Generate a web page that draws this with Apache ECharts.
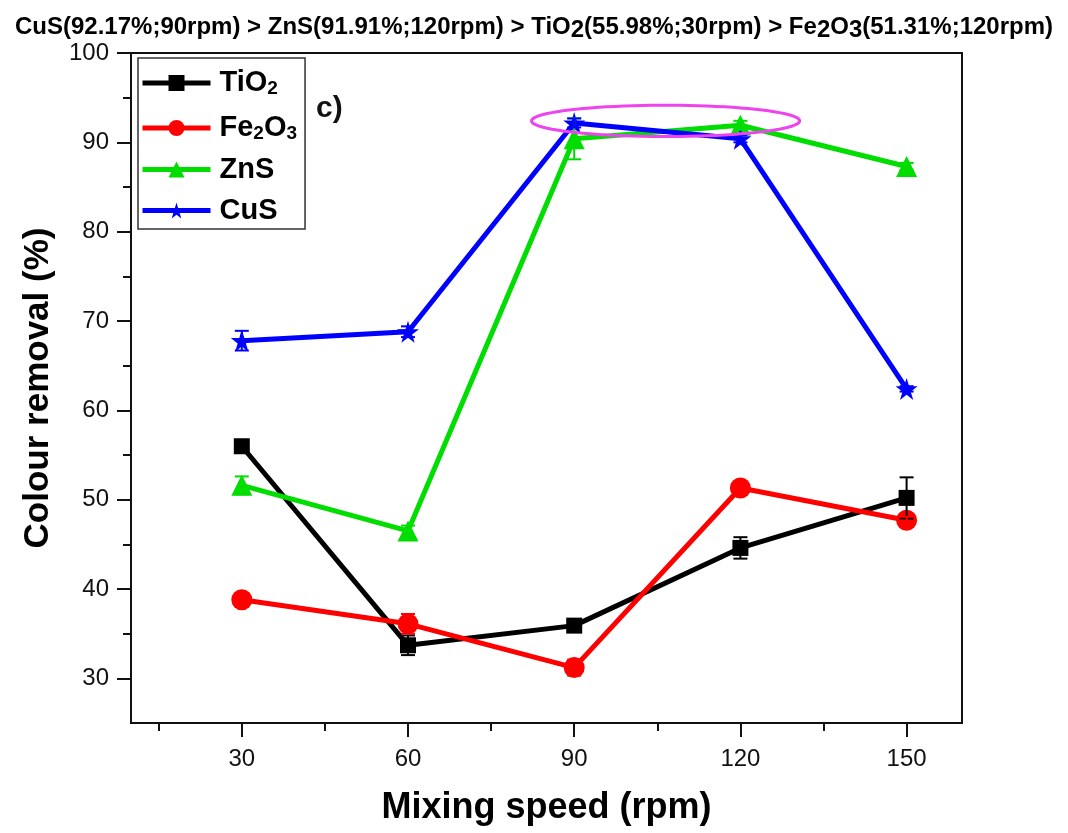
<!DOCTYPE html>
<html>
<head>
<meta charset="utf-8">
<title>Colour removal vs mixing speed</title>
<script src="https://cdn.jsdelivr.net/npm/echarts@6/dist/echarts.min.js"></script>
<style>
  html, body { margin: 0; padding: 0; background: #fff; }
  #main { width: 1068px; height: 833px; }
</style>
</head>
<body>
<div id="main"></div>
<script>
// data
var speeds = [30, 60, 90, 120, 150];
var tio2 = [55.98, 33.7, 35.9, 44.6, 50.2];
var tio2Err = [0.4, 1.1, 0.4, 1.2, 2.3];
var fe2o3 = [38.8, 36.1, 31.2, 51.31, 47.7];
var fe2o3Err = [0.3, 1.1, 0.9, 0.4, 0.4];
var zns = [51.6, 46.5, 90.4, 91.91, 87.3];
var znsErr = [1.0, 0.6, 2.3, 0.5, 0.4];
var cus = [67.8, 68.8, 92.17, 90.4, 62.4];
var cusErr = [1.1, 0.6, 0.5, 0.4, 0.3];

var xMajor = [30, 60, 90, 120, 150];
var xMinor = [15, 45, 75, 105, 135];
var yMajor = [30, 40, 50, 60, 70, 80, 90, 100];
var yMinor = [35, 45, 55, 65, 75, 85, 95];

// highlight ellipse around the top values (centre and half-axes in data units)
var highlight = [[106.5, 92.4, 24.2, 1.75]];

var starPath = 'path://M50,0 L61,35 L98,35 L68,57 L79,91 L50,70 L21,91 L32,57 L2,35 L39,35 Z';

var myChart = echarts.init(document.getElementById('main'));

function pairs(ys) {
  return speeds.map(function (x, i) { return [x, ys[i]]; });
}
function errData(ys, es) {
  return speeds.map(function (x, i) { return [x, ys[i] - es[i], ys[i] + es[i]]; });
}
function errRender(color) {
  return function (params, api) {
    var x = api.value(0);
    var top = api.coord([x, api.value(2)]);
    var bot = api.coord([x, api.value(1)]);
    var w = 7;
    var st = { stroke: color, lineWidth: 2 };
    return {
      type: 'group',
      children: [
        { type: 'line', shape: { x1: top[0], y1: top[1], x2: bot[0], y2: bot[1] }, style: st },
        { type: 'line', shape: { x1: top[0] - w, y1: top[1], x2: top[0] + w, y2: top[1] }, style: st },
        { type: 'line', shape: { x1: bot[0] - w, y1: bot[1], x2: bot[0] + w, y2: bot[1] }, style: st }
      ]
    };
  };
}

var colors = { TiO2: '#000000', Fe2O3: '#ff0000', ZnS: '#00dd00', CuS: '#0000ff' };

function lineSeries(name, ys, symbol, size) {
  return {
    name: name,
    type: 'line',
    data: pairs(ys),
    symbol: symbol,
    symbolSize: size,
    color: colors[name],
    lineStyle: { width: 5, color: colors[name] },
    itemStyle: { color: colors[name] },
    z: 3
  };
}
function errSeries(name, ys, es) {
  return {
    type: 'custom',
    data: errData(ys, es),
    encode: { x: 0, y: [1, 2] },
    renderItem: errRender(colors[name]),
    silent: true,
    z: 4
  };
}

var subRich = {
  n: { fontSize: 29, fontWeight: 'bold', color: '#000', fontFamily: 'Liberation Sans, Arial', lineHeight: 30 },
  s: { fontSize: 19, fontWeight: 'bold', color: '#000', fontFamily: 'Liberation Sans, Arial', verticalAlign: 'bottom', lineHeight: 20, padding: [14, 0, 0, 0] }
};
var legendLabels = {
  TiO2: '{n|TiO}{s|2}',
  Fe2O3: '{n|Fe}{s|2}{n|O}{s|3}',
  ZnS: '{n|ZnS}',
  CuS: '{n|CuS}'
};

var option = {
  animation: false,
  title: {
    text: 'CuS(92.17%;90rpm) > ZnS(91.91%;120rpm) > TiO{s|2}(55.98%;30rpm) > Fe{s|2}O{s|3}(51.31%;120rpm)',
    left: 'center',
    top: 7,
    textStyle: {
      fontSize: 24, fontWeight: 'bold', color: '#000', fontFamily: 'Liberation Sans, Arial',
      rich: {
        s: { fontSize: 24, fontWeight: 'bold', color: '#000', fontFamily: 'Liberation Sans, Arial', padding: [6, 0, 0, 0] }
      }
    }
  },
  grid: {
    left: 131, right: 106, top: 53, bottom: 110,
    show: true, borderColor: '#111', borderWidth: 2,
    containLabel: false
  },
  legend: {
    orient: 'vertical',
    left: 138,
    top: 58,
    width: 164,
    padding: [7, 8, 4, 2],
    borderColor: '#333',
    borderWidth: 1.5,
    itemWidth: 68,
    itemHeight: 20,
    itemGap: 12,
    lineStyle: { width: 5 },
    data: ['TiO2', 'Fe2O3', 'ZnS', 'CuS'],
    formatter: function (name) { return legendLabels[name]; },
    textStyle: { rich: subRich, padding: [0, 0, 0, 4] }
  },
  graphic: [
    {
      type: 'text', left: 316, top: 94,
      style: { text: 'c)', font: 'bold 30px Liberation Sans, Arial', fill: '#111' }
    }
  ],
  xAxis: [
    {
      type: 'value', min: 10, max: 160,
      name: 'Mixing speed (rpm)', nameLocation: 'middle', nameGap: 67,
      nameTextStyle: { fontSize: 36, fontWeight: 'bold', color: '#000', fontFamily: 'Liberation Sans, Arial' },
      axisLine: { lineStyle: { color: '#111', width: 2 } },
      axisTick: { customValues: xMajor, length: 14, lineStyle: { color: '#111', width: 2 } },
      axisLabel: { customValues: xMajor, margin: 24, fontSize: 24, color: '#111', fontFamily: 'Liberation Sans, Arial' },
      splitLine: { show: false }
    },
    {
      type: 'value', min: 10, max: 160, position: 'bottom', gridIndex: 0,
      axisLine: { show: false },
      axisTick: { customValues: xMinor, length: 8, lineStyle: { color: '#111', width: 2 } },
      axisLabel: { show: false },
      splitLine: { show: false }
    }
  ],
  yAxis: [
    {
      type: 'value', min: 25, max: 100,
      name: 'Colour removal (%)', nameLocation: 'middle', nameGap: 75,
      nameTextStyle: { fontSize: 35, fontWeight: 'bold', color: '#000', fontFamily: 'Liberation Sans, Arial' },
      axisLine: { show: true, lineStyle: { color: '#111', width: 2 } },
      axisTick: { show: true, customValues: yMajor, length: 14, lineStyle: { color: '#111', width: 2 } },
      axisLabel: { customValues: yMajor, margin: 22, fontSize: 24, color: '#111', fontFamily: 'Liberation Sans, Arial' },
      splitLine: { show: false }
    },
    {
      type: 'value', min: 25, max: 100, position: 'left', offset: 0,
      axisLine: { show: false },
      axisTick: { show: true, customValues: yMinor, length: 8, lineStyle: { color: '#111', width: 2 } },
      axisLabel: { show: false },
      splitLine: { show: false }
    }
  ],
  series: [
    lineSeries('TiO2', tio2, 'rect', 16),
    errSeries('TiO2', tio2, tio2Err),
    lineSeries('Fe2O3', fe2o3, 'circle', 21),
    errSeries('Fe2O3', fe2o3, fe2o3Err),
    lineSeries('ZnS', zns, 'triangle', 21),
    errSeries('ZnS', zns, znsErr),
    lineSeries('CuS', cus, starPath, 22),
    errSeries('CuS', cus, cusErr),
    {
      type: 'custom',
      data: highlight,
      encode: { x: 0, y: 1 },
      silent: true,
      z: 6,
      renderItem: function (params, api) {
        var c = api.coord([api.value(0), api.value(1)]);
        var r = api.size([api.value(2), api.value(3)]);
        var pts = [];
        for (var k = 0; k < 90; k++) {
          var t = k / 90 * Math.PI * 2;
          pts.push([c[0] + r[0] * Math.cos(t), c[1] + r[1] * Math.sin(t)]);
        }
        return { type: 'polygon', shape: { points: pts }, style: { fill: 'none', stroke: '#ee44ee', lineWidth: 3 } };
      }
    }
  ]
};

myChart.setOption(option);
</script>
</body>
</html>
